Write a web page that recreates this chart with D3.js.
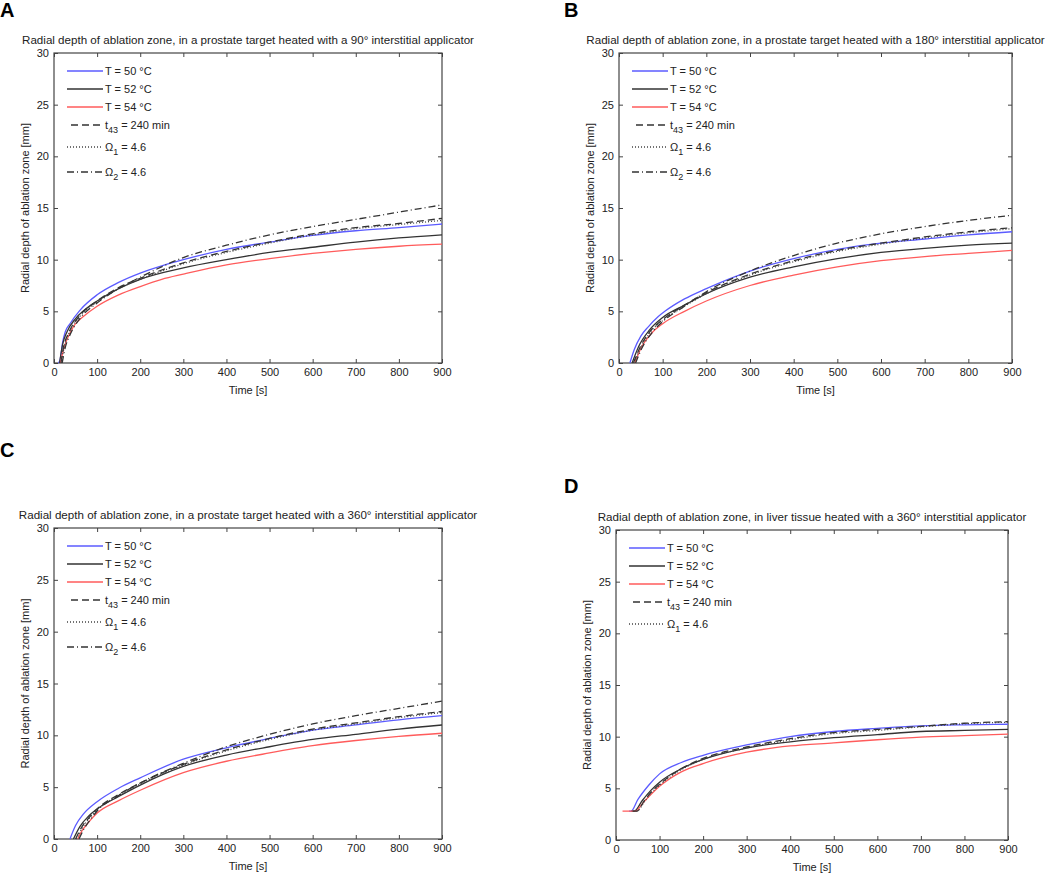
<!DOCTYPE html>
<html>
<head>
<meta charset="utf-8">
<script src="https://cdn.jsdelivr.net/npm/d3@7"></script>
<style>
  body { margin: 0; background: #fff; }
  text { font-family: "Liberation Sans", Arial, sans-serif; fill: #222; }
</style>
</head>
<body>
<svg id="fig"></svg>
<script>
// axis ticks
const timeTicks = [0, 100, 200, 300, 400, 500, 600, 700, 800, 900]
const depthTicks = [0, 5, 10, 15, 20, 25, 30]

// panel A: 90 deg applicator, prostate  [time s, depth mm]
const aT50 = [[10,0],[14,0.3],[20,2.0],[26,3.0],[37,3.8],[60,5.1],[100,6.6],[150,7.8],[200,8.7],[250,9.4],[300,10.0],[400,11.0],[500,11.7],[600,12.35],[700,12.8],[800,13.1],[900,13.45]]
const aT52 = [[13,0],[20,1.8],[30,3.0],[50,4.3],[70,5.1],[100,6.0],[150,7.2],[200,8.1],[300,9.2],[400,10.0],[500,10.7],[600,11.2],[700,11.7],[800,12.1],[900,12.4]]
const aT54 = [[15,0],[22,1.3],[37,2.9],[50,3.8],[68,4.5],[100,5.5],[150,6.6],[200,7.4],[250,8.1],[300,8.6],[400,9.5],[500,10.1],[600,10.6],[700,11.0],[800,11.3],[900,11.5]]
const aT43 = [[16,0],[22,1.5],[35,3.0],[60,4.6],[100,6.0],[150,7.3],[200,8.2],[300,9.7],[400,10.8],[500,11.7],[600,12.5],[700,13.1],[800,13.5],[900,14.0]]
const aOm1 = [[17,0],[23,1.4],[35,2.9],[60,4.5],[100,5.9],[150,7.2],[200,8.1],[300,9.6],[400,10.7],[500,11.6],[600,12.4],[700,13.0],[800,13.4],[900,13.8]]
const aOm2 = [[19,0],[25,1.3],[38,2.8],[60,4.3],[100,5.8],[150,7.2],[200,8.3],[300,10.2],[400,11.4],[500,12.4],[600,13.2],[700,13.9],[800,14.6],[900,15.3]]

// panel B: 180 deg applicator, prostate
const bT50 = [[25,0],[35,1.3],[50,2.6],[67,3.5],[90,4.5],[105,5.0],[150,6.2],[200,7.2],[250,8.1],[300,8.9],[400,10.1],[500,11.0],[600,11.6],[700,12.0],[800,12.4],[900,12.7]]
const bT52 = [[30,0],[45,1.6],[70,3.2],[100,4.4],[150,5.6],[200,6.7],[300,8.3],[400,9.3],[500,10.1],[600,10.7],[700,11.1],[800,11.4],[900,11.6]]
const bT54 = [[36,0],[50,1.4],[75,2.9],[100,3.8],[150,5.0],[200,6.0],[300,7.5],[400,8.5],[500,9.3],[600,9.9],[700,10.3],[800,10.6],[900,10.9]]
const bT43 = [[33,0],[48,1.5],[70,3.0],[100,4.2],[150,5.6],[200,6.8],[300,8.6],[400,9.9],[500,10.9],[600,11.6],[700,12.2],[800,12.7],[900,13.1]]
const bOm1 = [[34,0],[49,1.4],[72,3.0],[100,4.1],[150,5.5],[200,6.7],[300,8.5],[400,9.8],[500,10.8],[600,11.5],[700,12.1],[800,12.6],[900,13.0]]
const bOm2 = [[38,0],[52,1.4],[75,2.9],[100,4.0],[150,5.5],[200,6.9],[300,8.9],[400,10.4],[500,11.6],[600,12.5],[700,13.2],[800,13.8],[900,14.3]]

// panel C: 360 deg applicator, prostate
const cT50 = [[37,0],[50,1.3],[68,2.4],[100,3.6],[150,4.9],[200,5.9],[300,7.7],[400,8.8],[500,9.7],[600,10.5],[700,11.0],[800,11.5],[900,11.9]]
const cT52 = [[45,0],[60,1.2],[80,2.2],[100,2.9],[150,4.1],[200,5.2],[300,7.0],[400,8.1],[500,8.9],[600,9.6],[700,10.1],[800,10.6],[900,11.0]]
const cT54 = [[55,0],[65,0.8],[80,1.6],[100,2.5],[150,3.7],[200,4.7],[300,6.4],[400,7.5],[500,8.3],[600,9.0],[700,9.5],[800,9.9],[900,10.2]]
const cT43 = [[50,0],[65,1.2],[80,2.0],[100,2.9],[150,4.3],[200,5.4],[300,7.2],[400,8.6],[500,9.7],[600,10.6],[700,11.2],[800,11.8],[900,12.3]]
const cOm1 = [[52,0],[66,1.1],[80,1.9],[100,2.8],[150,4.2],[200,5.3],[300,7.1],[400,8.5],[500,9.6],[600,10.5],[700,11.1],[800,11.7],[900,12.2]]
const cOm2 = [[58,0],[70,1.0],[85,1.9],[100,2.7],[150,4.2],[200,5.4],[300,7.3],[400,8.9],[500,10.1],[600,11.1],[700,11.9],[800,12.6],[900,13.3]]

// panel D: 360 deg applicator, liver
const dT50 = [[30,2.8],[35,2.8],[50,3.9],[75,5.3],[100,6.4],[150,7.5],[200,8.2],[300,9.2],[400,10.0],[500,10.5],[600,10.8],[700,11.05],[800,11.15],[900,11.2]]
const dT52 = [[35,2.8],[42,2.8],[60,3.8],[80,4.8],[100,5.6],[150,6.9],[200,7.8],[300,8.9],[400,9.5],[500,9.9],[600,10.2],[700,10.5],[800,10.6],[900,10.7]]
const dT54 = [[15,2.8],[45,2.8],[60,3.5],[80,4.4],[100,5.2],[150,6.6],[200,7.4],[300,8.5],[400,9.1],[500,9.4],[600,9.7],[700,9.95],[800,10.1],[900,10.25]]
const dT43 = [[38,2.8],[48,2.8],[65,3.8],[80,4.6],[100,5.4],[150,6.9],[200,7.9],[300,9.0],[400,9.8],[500,10.4],[600,10.7],[700,11.0],[800,11.3],[900,11.45]]
const dOm1 = [[40,2.8],[48,2.8],[65,3.7],[80,4.5],[100,5.3],[150,6.8],[200,7.8],[300,8.9],[400,9.7],[500,10.3],[600,10.6],[700,10.95],[800,11.25],[900,11.4]]

// line styles, same order as the legend
let styles = [
    { name: ['T = 50 °C'], color: '#5b5bff', dash: null },
    { name: ['T = 52 °C'], color: '#333', dash: null },
    { name: ['T = 54 °C'], color: '#ff5b5b', dash: null },
    { name: ['t', '43', ' = 240 min'], color: '#333', dash: '7,4' },
    { name: ['Ω', '1', ' = 4.6'], color: '#444', dash: '1,2' },
    { name: ['Ω', '2', ' = 4.6'], color: '#333', dash: '7,3,1,3' }
]

let svg = d3.select('#fig')
    .attr('width', 1050)
    .attr('height', 874)

function drawPanel(p) {

    let g = svg.append('g')
        .attr('transform', `translate(${p.left}, ${p.top})`)

    let x = d3.scaleLinear().domain([0, 900]).range([0, p.width])
    let y = d3.scaleLinear().domain([0, 30]).range([p.height, 0])

    // panel letter
    svg.append('text')
        .attr('x', p.letterX)
        .attr('y', p.letterY)
        .style('font-size', '20px')
        .style('font-weight', 'bold')
        .style('fill', '#000')
        .text(p.letter)

    // title
    g.append('text')
        .attr('x', p.width / 2)
        .attr('y', -9)
        .attr('text-anchor', 'middle')
        .style('font-size', '11.6px')
        .text(p.title)

    // axes, ticks pointing inward like matlab
    let bottom = g.append('g')
        .attr('transform', `translate(0, ${p.height})`)
        .call(d3.axisBottom(x).tickValues(timeTicks).tickSizeInner(-4).tickSizeOuter(0).tickPadding(5))
    let left = g.append('g')
        .call(d3.axisLeft(y).tickValues(depthTicks).tickSizeInner(-4).tickSizeOuter(0).tickPadding(5))
    let top = g.append('g')
        .call(d3.axisTop(x).tickValues(timeTicks).tickSizeInner(-4).tickSizeOuter(0).tickFormat(''))
    let right = g.append('g')
        .attr('transform', `translate(${p.width}, 0)`)
        .call(d3.axisRight(y).tickValues(depthTicks).tickSizeInner(-4).tickSizeOuter(0).tickFormat(''))

    ;[bottom, left, top, right].forEach(function (a) {
        a.select('.domain').remove()
        a.selectAll('line').attr('stroke', '#444')
        a.selectAll('text')
            .style('font-size', '11px')
            .style('font-family', '"Liberation Sans", Arial, sans-serif')
            .attr('fill', '#222')
    })

    g.append('rect')
        .attr('width', p.width)
        .attr('height', p.height)
        .attr('fill', 'none')
        .attr('stroke', '#444')
        .attr('stroke-width', 1.2)

    // axis labels
    g.append('text')
        .attr('x', p.width / 2)
        .attr('y', p.height + 31)
        .attr('text-anchor', 'middle')
        .style('font-size', '11px')
        .text('Time [s]')

    g.append('text')
        .attr('transform', 'rotate(-90)')
        .attr('x', -p.height / 2)
        .attr('y', -25)
        .attr('text-anchor', 'middle')
        .style('font-size', '11px')
        .text('Radial depth of ablation zone [mm]')

    // curves
    let line = d3.line()
        .x(function (d) { return x(d[0]); })
        .y(function (d) { return y(d[1]); })
        .curve(d3.curveMonotoneX)

    p.series.forEach(function (s, i) {
        g.append('path')
            .datum(s)
            .attr('d', line)
            .attr('fill', 'none')
            .attr('stroke', styles[i].color)
            .attr('stroke-width', 1.3)
            .attr('stroke-dasharray', styles[i].dash)
    })

    // legend (no box)
    let rowY = [18, 36, 54, 72, 94, 119]
    p.series.forEach(function (s, i) {
        let st = styles[i]
        let x0 = st.dash == '7,4' ? 17 : 13
        g.append('line')
            .attr('x1', x0).attr('x2', 49)
            .attr('y1', rowY[i]).attr('y2', rowY[i])
            .attr('stroke', st.color)
            .attr('stroke-width', 1.3)
            .attr('stroke-dasharray', st.dash)

        let t = g.append('text')
            .attr('x', 51)
            .attr('y', rowY[i] + 4)
            .style('font-size', '11px')
        t.append('tspan').text(st.name[0])
        if (st.name.length > 1) {
            t.append('tspan').attr('dy', 4).style('font-size', '9px').text(st.name[1])
            t.append('tspan').attr('dy', -4).text(st.name[2])
        }
    })
}

drawPanel({
    letter: 'A', letterX: 0, letterY: 17,
    left: 54, top: 53, width: 388, height: 310,
    title: 'Radial depth of ablation zone, in a prostate target heated with a 90° interstitial applicator',
    series: [aT50, aT52, aT54, aT43, aOm1, aOm2]
})

drawPanel({
    letter: 'B', letterX: 564, letterY: 17,
    left: 619, top: 53, width: 393, height: 310,
    title: 'Radial depth of ablation zone, in a prostate target heated with a 180° interstitial applicator',
    series: [bT50, bT52, bT54, bT43, bOm1, bOm2]
})

drawPanel({
    letter: 'C', letterX: 0, letterY: 457,
    left: 54, top: 528, width: 388, height: 311,
    title: 'Radial depth of ablation zone, in a prostate target heated with a 360° interstitial applicator',
    series: [cT50, cT52, cT54, cT43, cOm1, cOm2]
})

drawPanel({
    letter: 'D', letterX: 564, letterY: 493,
    left: 616, top: 530, width: 392, height: 310,
    title: 'Radial depth of ablation zone, in liver tissue heated with a 360° interstitial applicator',
    series: [dT50, dT52, dT54, dT43, dOm1]
})
</script>
</body>
</html>
